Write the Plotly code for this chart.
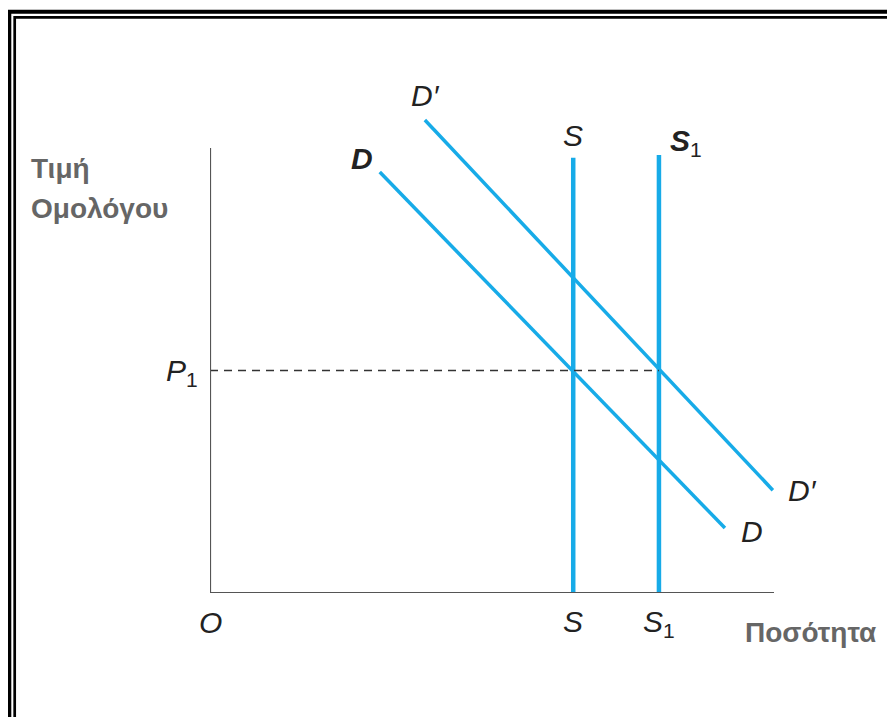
import plotly.graph_objects as go

# ---------------- data (economic units) ----------------
D_Q = [3.01, 9.13]          # demand D: quantity endpoints
D_P = [9.46, 1.46]          # demand D: price endpoints
DP_Q = [3.81, 9.98]         # demand D': quantity endpoints
DP_P = [10.63, 2.31]        # demand D': price endpoints
S_Q = 6.44                  # supply S quantity (vertical)
S_TOP = 9.78
S1_Q = 7.96                 # supply S1 quantity (vertical)
S1_TOP = 9.84
P1 = 5.0                    # equilibrium price
AXIS_MAX_Q = 10.0
AXIS_MAX_P = 10.0

# ---------------- layout geometry ----------------
OFF = 8                     # page body margin offset
FW, FH = 895, 717
ML, MT = 210 - OFF, 50 - OFF
MB = FH - (593 - OFF)
MR = FW - ML - 675
PW, PH = FW - ML - MR, FH - MT - MB
PX_PER_Q, PX_PER_P = 56.4, 44.5
X_RANGE = [0, PW / PX_PER_Q]
Y_RANGE = [0, PH / PX_PER_P]

BLUE = "#17ABE8"
AXIS_C = "#555555"
TXT = "#222222"
TITLE_C = "#666666"
FONT = "Liberation Sans, Arial, sans-serif"


def xp(px):
    return (px - OFF - ML) / PW


def yp(py):
    return (FH - (py - OFF) - MB) / PH


fig = go.Figure()

# supply lines
fig.add_trace(go.Scatter(x=[S_Q, S_Q], y=[0, S_TOP], mode="lines",
                         line=dict(color=BLUE, width=4.5), hoverinfo="skip"))
fig.add_trace(go.Scatter(x=[S1_Q, S1_Q], y=[0, S1_TOP], mode="lines",
                         line=dict(color=BLUE, width=4.5), hoverinfo="skip"))
# demand lines
fig.add_trace(go.Scatter(x=D_Q, y=D_P, mode="lines",
                         line=dict(color=BLUE, width=3.5), hoverinfo="skip"))
fig.add_trace(go.Scatter(x=DP_Q, y=DP_P, mode="lines",
                         line=dict(color=BLUE, width=3.5), hoverinfo="skip"))
# dashed price line
fig.add_trace(go.Scatter(x=[0, S1_Q], y=[P1, P1], mode="lines",
                         line=dict(color="#333333", width=1.5, dash="8px,6px"),
                         hoverinfo="skip"))


def frame_path(xl, yt):
    return (f"M {xp(xl)},{yp(760)} L {xp(xl)},{yp(yt)} L {xp(960)},{yp(yt)}")


shapes = [
    # axes
    dict(type="line", xref="x", yref="y", x0=0, x1=0, y0=0, y1=AXIS_MAX_P,
         line=dict(color=AXIS_C, width=2.2)),
    dict(type="line", xref="x", yref="y", x0=0, x1=AXIS_MAX_Q, y0=0, y1=0,
         line=dict(color=AXIS_C, width=2.2)),
    # double frame (left and top edges only are visible)
    dict(type="path", xref="paper", yref="paper", layer="above",
         path=frame_path(9.3, 11.7), line=dict(color="#000", width=4)),
    dict(type="path", xref="paper", yref="paper", layer="above",
         path=frame_path(14.7, 17.3), line=dict(color="#000", width=2.7)),
]

LBL = dict(family=FONT, size=30, color=TXT)
ann = []


def lab(text, x, y, xa="center", ya="middle", xs=0, ys=0, font=LBL):
    ann.append(dict(text=text, x=x, y=y, xref="x", yref="y", showarrow=False,
                    xanchor=xa, yanchor=ya, xshift=xs, yshift=ys, font=font))


lab("<i>D′</i>", DP_Q[0], DP_P[0], ys=24, xs=1)
lab("<b><i>D</i></b>", D_Q[0], D_P[0], xs=-18, ys=14)
lab("<i>S</i>", S_Q, S_TOP, ys=22)
lab("<b><i>S</i></b><sub>1</sub>", S1_Q, S1_TOP, xa="left", xs=9, ys=13)
lab("<i>P</i><sub>1</sub>", 0, P1, xa="right", xs=-10, ys=-2)
lab("<i>O</i>", 0, 0, ys=-29)
lab("<i>S</i>", S_Q, 0, ys=-28)
lab("<i>S</i><sub>1</sub>", S1_Q, 0, ys=-30)
lab("<i>D′</i>", DP_Q[1], DP_P[1], xa="left", xs=13)
lab("<i>D</i>", D_Q[1], D_P[1], xa="left", xs=14, ys=-3)

TF = dict(family=FONT, size=28, color=TITLE_C)
for t, px_, py_ in [("<b>Τιμή</b>", 29, 168), ("<b>Ομολόγου</b>", 29, 208)]:
    ann.append(dict(text=t, x=xp(px_), y=yp(py_), xref="paper", yref="paper",
                    showarrow=False, xanchor="left", yanchor="middle", font=TF))
ann.append(dict(text="<b>Ποσότητα</b>", x=xp(743), y=yp(632), xref="paper",
                yref="paper", showarrow=False, xanchor="left", yanchor="middle",
                font=TF))

fig.update_layout(
    width=FW, height=FH,
    margin=dict(l=ML, r=MR, t=MT, b=MB, pad=0),
    paper_bgcolor="white", plot_bgcolor="white",
    showlegend=False,
    xaxis=dict(range=X_RANGE, visible=False, fixedrange=True),
    yaxis=dict(range=Y_RANGE, visible=False, fixedrange=True),
    shapes=shapes, annotations=ann,
)

fig.write_html("out.html")
